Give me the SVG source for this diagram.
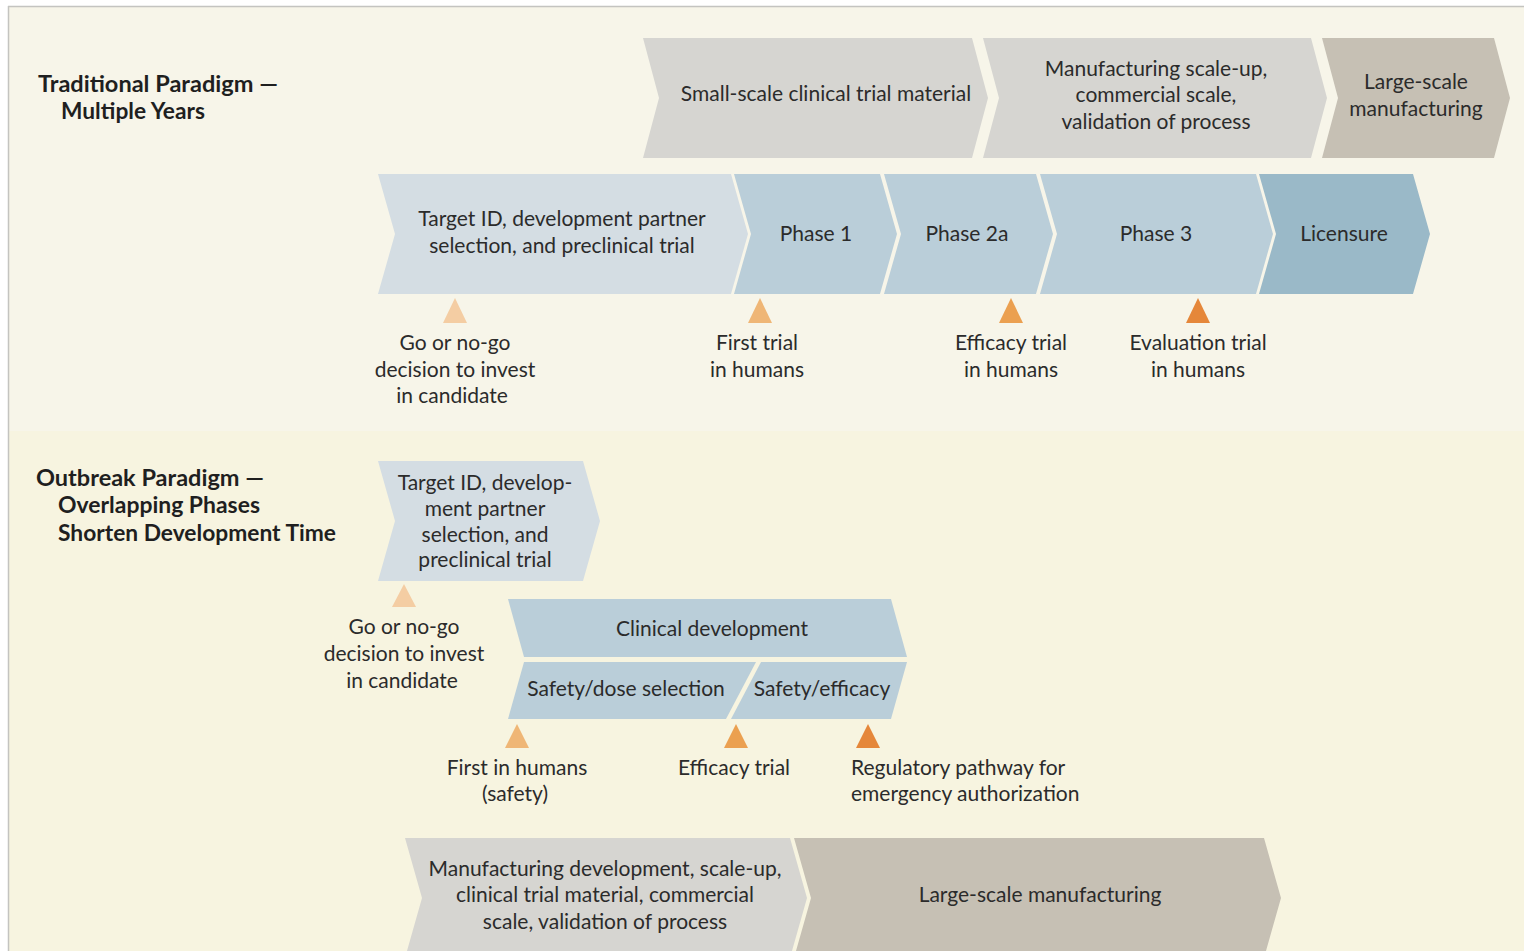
<svg xmlns="http://www.w3.org/2000/svg" width="1524" height="951" viewBox="0 0 1524 951">
  <style>
    .t { font-family: Lato, "Noto Sans", "Liberation Sans", sans-serif; font-size: 21px; fill: #2b2b2b; text-anchor: middle; }
    .h { font-family: Lato, "Noto Sans", "Liberation Sans", sans-serif; font-size: 22px; font-weight: bold; fill: #1f1f1f; }
    .gray { fill: #d6d5d1; }
    .tan { fill: #c6c0b4; }
    .pale { fill: #d4dde3; }
    .blue { fill: #baced9; }
    .deep { fill: #9ab9c8; }
    .m1 { fill: #f4cda3; }
    .m2 { fill: #efb676; }
    .m3 { fill: #eba050; }
    .m4 { fill: #e5873a; }
  </style>

  <!-- page background and frame -->
  <rect x="0" y="0" width="1524" height="951" fill="#ffffff"/>
  <rect x="9" y="7" width="1515" height="424" fill="#f7f5e9"/>
  <rect x="9" y="431" width="1515" height="520" fill="#f7f4e0"/>
  <line x1="8" y1="6.5" x2="1524" y2="6.5" stroke="#c4c4c0" stroke-width="1.5"/>
  <line x1="8.5" y1="6" x2="8.5" y2="951" stroke="#c4c4c0" stroke-width="1.5"/>

  <!-- section headings -->
  <g id="heading-traditional">
    <text class="h" x="38" y="92" textLength="240" lengthAdjust="spacingAndGlyphs">Traditional Paradigm —</text>
    <text class="h" x="61" y="119" textLength="144" lengthAdjust="spacingAndGlyphs">Multiple Years</text>
  </g>
  <g id="heading-outbreak">
    <text class="h" x="36" y="486" textLength="228" lengthAdjust="spacingAndGlyphs">Outbreak Paradigm —</text>
    <text class="h" x="58" y="513" textLength="202" lengthAdjust="spacingAndGlyphs">Overlapping Phases</text>
    <text class="h" x="58" y="541" textLength="278" lengthAdjust="spacingAndGlyphs">Shorten Development Time</text>
  </g>

  <!-- traditional: manufacturing row -->
  <g id="trad-small-scale">
    <polygon class="gray" points="643,38 972,38 988,98 972,158 643,158 659,98"/>
    <text class="t" x="826" y="101">Small-scale clinical trial material</text>
  </g>
  <g id="trad-scale-up">
    <polygon class="gray" points="983,38 1311,38 1327,98 1311,158 983,158 999,98"/>
    <text class="t" x="1156" y="76">Manufacturing scale-up,</text>
    <text class="t" x="1156" y="102">commercial scale,</text>
    <text class="t" x="1156" y="129">validation of process</text>
  </g>
  <g id="trad-large-scale">
    <polygon class="tan" points="1322,38 1494,38 1510,98 1494,158 1322,158 1338,98"/>
    <text class="t" x="1416" y="89">Large-scale</text>
    <text class="t" x="1416" y="116">manufacturing</text>
  </g>

  <!-- traditional: development row -->
  <g id="trad-target">
    <polygon class="pale" points="378,174 731,174 748,234 731,294 378,294 395,234"/>
    <text class="t" x="562" y="226">Target ID, development partner</text>
    <text class="t" x="562" y="253">selection, and preclinical trial</text>
  </g>
  <g id="trad-phase1">
    <polygon class="blue" points="734,174 880,174 897,234 880,294 734,294 751,234"/>
    <text class="t" x="816" y="241">Phase 1</text>
  </g>
  <g id="trad-phase2a">
    <polygon class="blue" points="884,174 1036,174 1053,234 1036,294 884,294 901,234"/>
    <text class="t" x="967" y="241">Phase 2a</text>
  </g>
  <g id="trad-phase3">
    <polygon class="blue" points="1040,174 1256,174 1273,234 1256,294 1040,294 1057,234"/>
    <text class="t" x="1156" y="241">Phase 3</text>
  </g>
  <g id="trad-licensure">
    <polygon class="deep" points="1259,174 1413,174 1430,234 1413,294 1259,294 1276,234"/>
    <text class="t" x="1344" y="241">Licensure</text>
  </g>

  <!-- traditional: milestones -->
  <g id="trad-go-decision">
    <polygon class="m1" points="455,298 467,323 443,323"/>
    <text class="t" x="455" y="350">Go or no-go</text>
    <text class="t" x="455" y="377">decision to invest</text>
    <text class="t" x="452" y="403">in candidate</text>
  </g>
  <g id="trad-first-trial">
    <polygon class="m2" points="760,298 772,323 748,323"/>
    <text class="t" x="757" y="350">First trial</text>
    <text class="t" x="757" y="377">in humans</text>
  </g>
  <g id="trad-efficacy">
    <polygon class="m3" points="1011,298 1023,323 999,323"/>
    <text class="t" x="1011" y="350">Efficacy trial</text>
    <text class="t" x="1011" y="377">in humans</text>
  </g>
  <g id="trad-evaluation">
    <polygon class="m4" points="1198,298 1210,323 1186,323"/>
    <text class="t" x="1198" y="350">Evaluation trial</text>
    <text class="t" x="1198" y="377">in humans</text>
  </g>

  <!-- outbreak: preclinical -->
  <g id="out-target">
    <polygon class="pale" points="378,461 583,461 600,521 583,581 378,581 395,521"/>
    <text class="t" x="485" y="490">Target ID, develop-</text>
    <text class="t" x="485" y="516">ment partner</text>
    <text class="t" x="485" y="542">selection, and</text>
    <text class="t" x="485" y="567">preclinical trial</text>
  </g>
  <g id="out-go-decision">
    <polygon class="m1" points="404,584 416,607 392,607"/>
    <text class="t" x="404" y="634">Go or no-go</text>
    <text class="t" x="404" y="661">decision to invest</text>
    <text class="t" x="402" y="688">in candidate</text>
  </g>

  <!-- outbreak: clinical development, split into two stacked bands -->
  <g id="out-clinical">
    <polygon class="blue" points="508,599 891,599 907,657 524,657"/>
    <text class="t" x="712" y="636">Clinical development</text>
  </g>
  <g id="out-safety-dose">
    <polygon class="blue" points="524,662 756,662 726,719 508,719"/>
    <text class="t" x="626" y="696">Safety/dose selection</text>
  </g>
  <g id="out-safety-efficacy">
    <polygon class="blue" points="761,662 907,662 891,719 731,719"/>
    <text class="t" x="822" y="696">Safety/efficacy</text>
  </g>

  <!-- outbreak: milestones -->
  <g id="out-first-humans">
    <polygon class="m2" points="517,724 529,748 505,748"/>
    <text class="t" x="517" y="775">First in humans</text>
    <text class="t" x="515" y="801">(safety)</text>
  </g>
  <g id="out-efficacy">
    <polygon class="m3" points="736,724 748,748 724,748"/>
    <text class="t" x="734" y="775">Efficacy trial</text>
  </g>
  <g id="out-regulatory">
    <polygon class="m4" points="868,724 880,748 856,748"/>
    <text class="t" x="851" y="775" style="text-anchor:start">Regulatory pathway for</text>
    <text class="t" x="851" y="801" style="text-anchor:start">emergency authorization</text>
  </g>

  <!-- outbreak: manufacturing row -->
  <g id="out-manufacturing">
    <polygon class="gray" points="405,838 790,838 807,898 790,958 405,958 422,898"/>
    <text class="t" x="605" y="876">Manufacturing development, scale-up,</text>
    <text class="t" x="605" y="902">clinical trial material, commercial</text>
    <text class="t" x="605" y="929">scale, validation of process</text>
  </g>
  <g id="out-large-scale">
    <polygon class="tan" points="794,838 1264,838 1281,898 1264,958 794,958 811,898"/>
    <text class="t" x="1040" y="902">Large-scale manufacturing</text>
  </g>

  <!-- no connectors: the flow is carried by the chevron shapes -->
  <g id="connectors"/>
</svg>
